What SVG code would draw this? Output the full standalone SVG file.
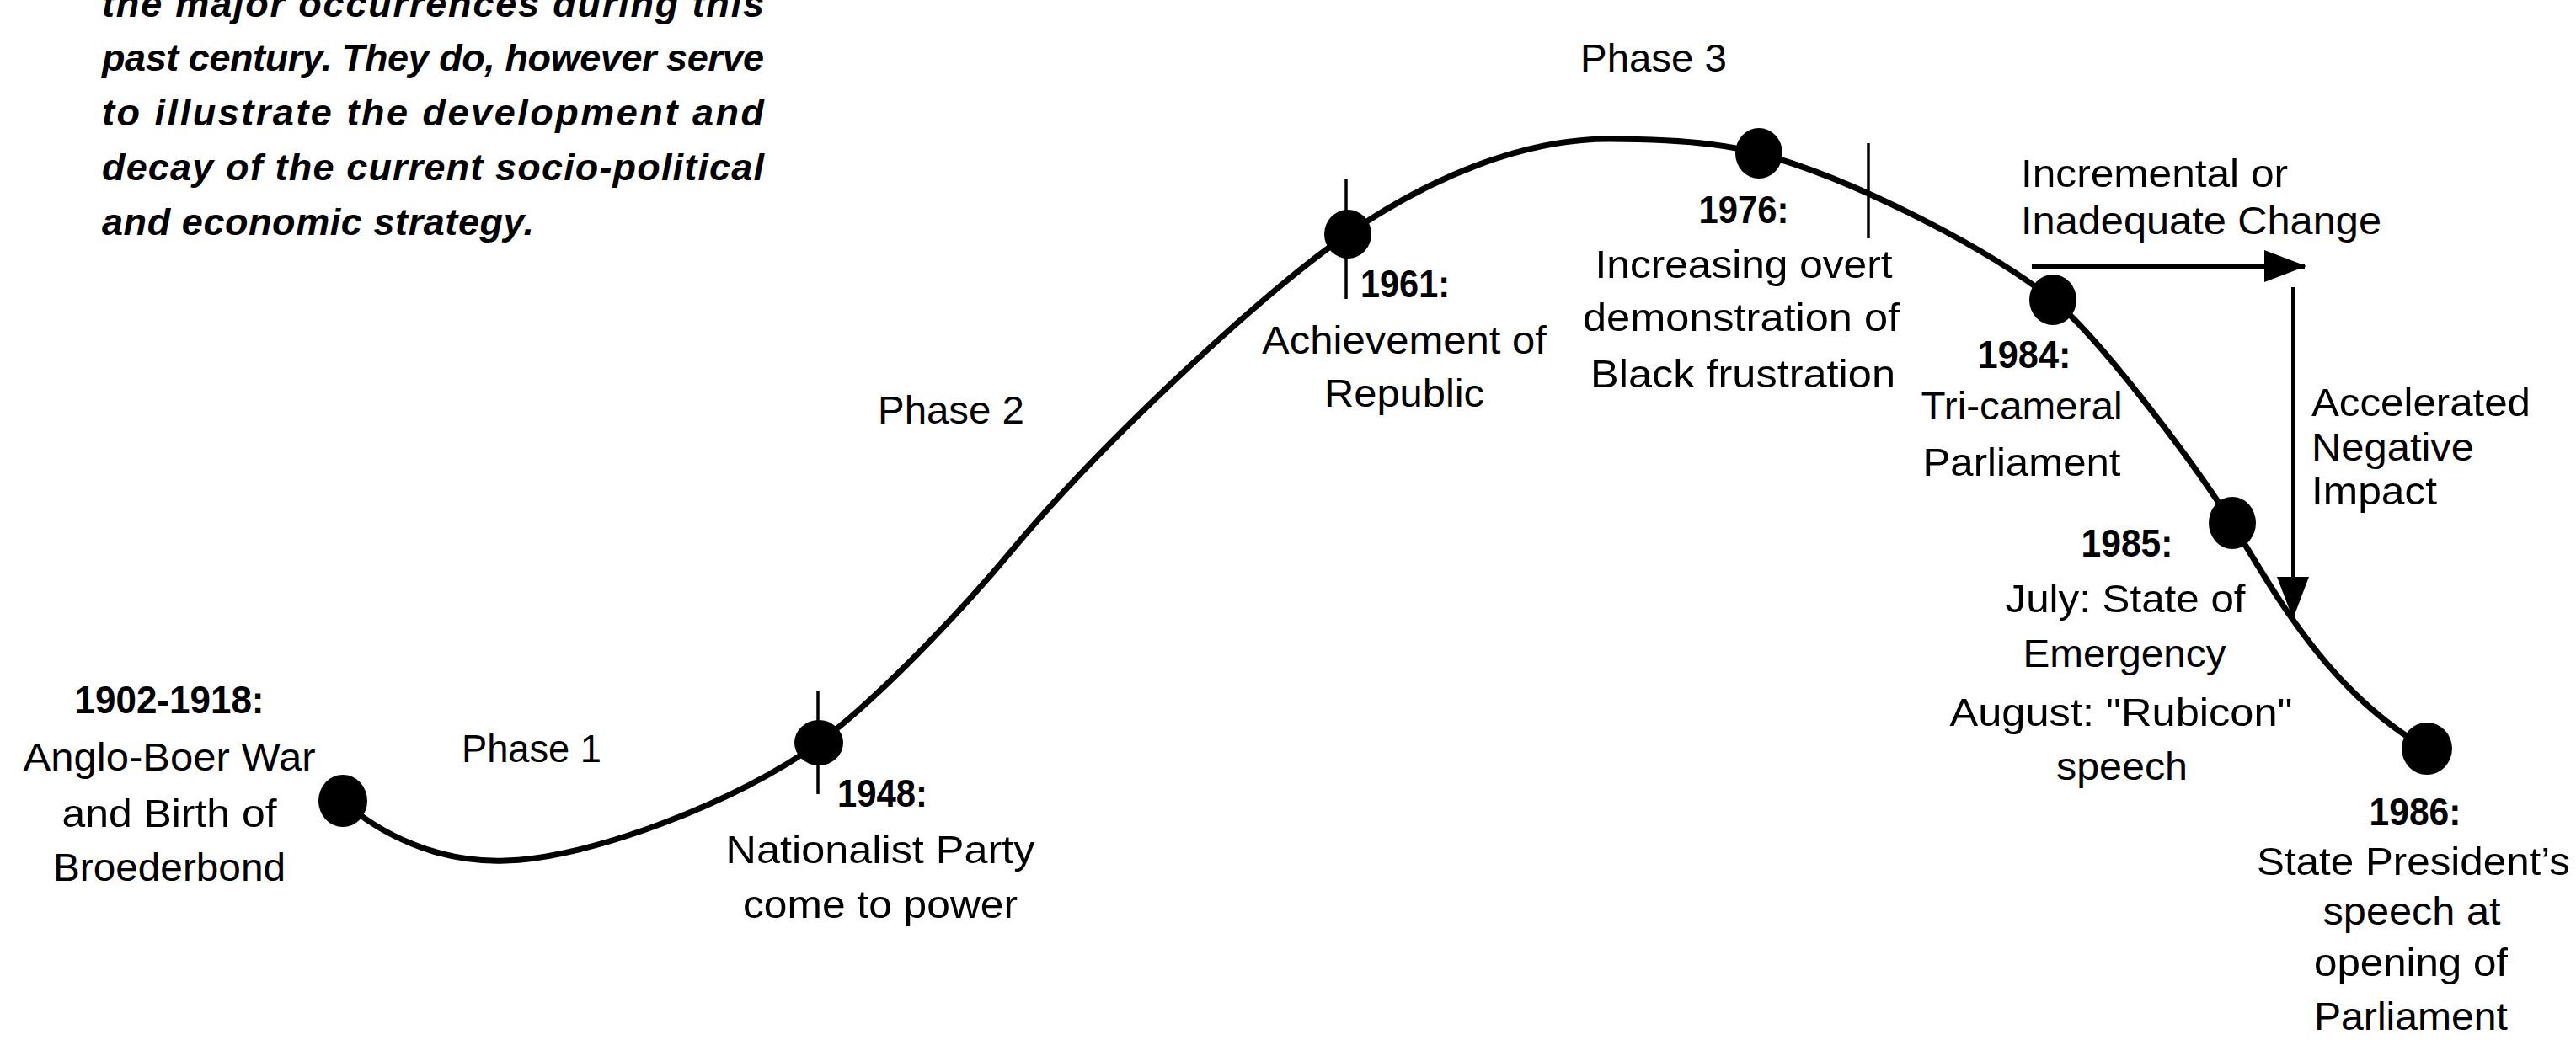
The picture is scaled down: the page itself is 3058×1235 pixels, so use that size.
<svg xmlns="http://www.w3.org/2000/svg" width="3058" height="1235" viewBox="0 0 3058 1235">
<style>
text{font-family:"Liberation Sans",Arial,Helvetica,sans-serif;font-size:47px;fill:#000}
.c{text-anchor:middle}
.y{font-weight:bold}
.p{font-weight:bold;font-style:italic;font-size:45px}
.dot{fill:#000}
.tick{stroke:#000;stroke-width:3.5;fill:none}
.curve{stroke:#000;stroke-width:7;fill:none;stroke-linecap:round}
.arr{stroke:#000;fill:none}
</style>
<defs>
<marker id="head" viewBox="0 0 50 38" refX="48" refY="19" markerWidth="50" markerHeight="38" markerUnits="userSpaceOnUse" orient="auto">
<path d="M0,0 L50,19 L0,38 Z" fill="#000"/>
</marker>
</defs>
<rect width="3058" height="1235" fill="#fff"/>

<g id="note">
<text class="p" x="121" y="20" textLength="786" lengthAdjust="spacing">the major occurrences during this</text>
<text class="p" x="121" y="84" textLength="786" lengthAdjust="spacing">past century. They do, however serve</text>
<text class="p" x="121" y="149" textLength="786" lengthAdjust="spacing">to illustrate the development and</text>
<text class="p" x="121" y="214" textLength="786" lengthAdjust="spacing">decay of the current socio-political</text>
<text class="p" x="121" y="279" textLength="513" lengthAdjust="spacing">and economic strategy.</text>
</g>

<g id="connectors">
<path class="curve" d="M407,951 C450,990 520,1025 600,1022 C700,1020 880,950 972,882 C1042,830 1140,727 1200,655 C1310,523 1500,347 1600,278 C1700,209 1810,165 1910,165 C1970,165 2036,168 2088,182 C2200,212 2360,295 2437,356 C2490,398 2605,550 2650,622 C2695,694 2760,820 2881,889"/>
<line class="arr" x1="2412" y1="316" x2="2736" y2="316" stroke-width="6" marker-end="url(#head)"/>
<line class="arr" x1="2722" y1="341" x2="2722" y2="733" stroke-width="4" marker-end="url(#head)"/>
<line class="tick" x1="2218" y1="170" x2="2218" y2="283"/>
</g>

<g id="phases">
<text class="c" x="631" y="905" textLength="166" lengthAdjust="spacingAndGlyphs">Phase 1</text>
<text class="c" x="1129" y="503" textLength="174" lengthAdjust="spacingAndGlyphs">Phase 2</text>
<text class="c" x="1963" y="85" textLength="174" lengthAdjust="spacingAndGlyphs">Phase 3</text>
</g>

<g id="n1902">
<ellipse class="dot" cx="407" cy="951" rx="29" ry="31"/>
<text class="c y" x="201" y="847" textLength="225" lengthAdjust="spacingAndGlyphs">1902-1918:</text>
<text class="c" x="201" y="915" textLength="347" lengthAdjust="spacingAndGlyphs">Anglo-Boer War</text>
<text class="c" x="201" y="982" textLength="255" lengthAdjust="spacingAndGlyphs">and Birth of</text>
<text class="c" x="201" y="1046" textLength="276" lengthAdjust="spacingAndGlyphs">Broederbond</text>
</g>

<g id="n1948">
<line class="tick" x1="971" y1="820" x2="971" y2="943"/>
<ellipse class="dot" cx="972" cy="882" rx="29" ry="27"/>
<text class="y" x="994" y="958" textLength="107" lengthAdjust="spacingAndGlyphs">1948:</text>
<text class="c" x="1045" y="1025" textLength="367" lengthAdjust="spacingAndGlyphs">Nationalist Party</text>
<text class="c" x="1045" y="1090" textLength="326" lengthAdjust="spacingAndGlyphs">come to power</text>
</g>

<g id="n1961">
<line class="tick" x1="1598" y1="213" x2="1598" y2="355"/>
<ellipse class="dot" cx="1600" cy="278" rx="28" ry="29"/>
<text class="y" x="1615" y="353" textLength="106" lengthAdjust="spacingAndGlyphs">1961:</text>
<text class="c" x="1667" y="420" textLength="338" lengthAdjust="spacingAndGlyphs">Achievement of</text>
<text class="c" x="1667" y="483" textLength="190" lengthAdjust="spacingAndGlyphs">Republic</text>
</g>

<g id="n1976">
<ellipse class="dot" cx="2088" cy="182" rx="28" ry="30"/>
<text class="c y" x="2070" y="265" textLength="107" lengthAdjust="spacingAndGlyphs">1976:</text>
<text class="c" x="2070" y="330" textLength="353" lengthAdjust="spacingAndGlyphs">Increasing overt</text>
<text class="c" x="2067" y="393" textLength="376" lengthAdjust="spacingAndGlyphs">demonstration of</text>
<text class="c" x="2069" y="460" textLength="362" lengthAdjust="spacingAndGlyphs">Black frustration</text>
</g>

<g id="n1984">
<ellipse class="dot" cx="2437" cy="356" rx="28" ry="30"/>
<text class="c y" x="2403" y="437" textLength="111" lengthAdjust="spacingAndGlyphs">1984:</text>
<text class="c" x="2400" y="498" textLength="239" lengthAdjust="spacingAndGlyphs">Tri-cameral</text>
<text class="c" x="2400" y="565" textLength="235" lengthAdjust="spacingAndGlyphs">Parliament</text>
</g>

<g id="n1985">
<ellipse class="dot" cx="2650" cy="621" rx="28" ry="31"/>
<text class="c y" x="2525" y="661" textLength="109" lengthAdjust="spacingAndGlyphs">1985:</text>
<text class="c" x="2523" y="727" textLength="285" lengthAdjust="spacingAndGlyphs">July: State of</text>
<text class="c" x="2522" y="792" textLength="241" lengthAdjust="spacingAndGlyphs">Emergency</text>
<text class="c" x="2518" y="862" textLength="407" lengthAdjust="spacingAndGlyphs">August: "Rubicon"</text>
<text class="c" x="2519" y="926" textLength="156" lengthAdjust="spacingAndGlyphs">speech</text>
</g>

<g id="n1986">
<ellipse class="dot" cx="2881" cy="889" rx="30" ry="31"/>
<text class="c y" x="2867" y="980" textLength="109" lengthAdjust="spacingAndGlyphs">1986:</text>
<text class="c" x="2865" y="1039" textLength="372" lengthAdjust="spacingAndGlyphs">State President’s</text>
<text class="c" x="2863" y="1098" textLength="211" lengthAdjust="spacingAndGlyphs">speech at</text>
<text class="c" x="2862" y="1159" textLength="230" lengthAdjust="spacingAndGlyphs">opening of</text>
<text class="c" x="2862" y="1223" textLength="230" lengthAdjust="spacingAndGlyphs">Parliament</text>
</g>

<g id="trend-labels">
<text x="2399" y="222" textLength="317" lengthAdjust="spacingAndGlyphs">Incremental or</text>
<text x="2399" y="278" textLength="428" lengthAdjust="spacingAndGlyphs">Inadequate Change</text>
<text x="2744" y="494" textLength="260" lengthAdjust="spacingAndGlyphs">Accelerated</text>
<text x="2744" y="547" textLength="193" lengthAdjust="spacingAndGlyphs">Negative</text>
<text x="2744" y="599" textLength="149" lengthAdjust="spacingAndGlyphs">Impact</text>
</g>
</svg>
